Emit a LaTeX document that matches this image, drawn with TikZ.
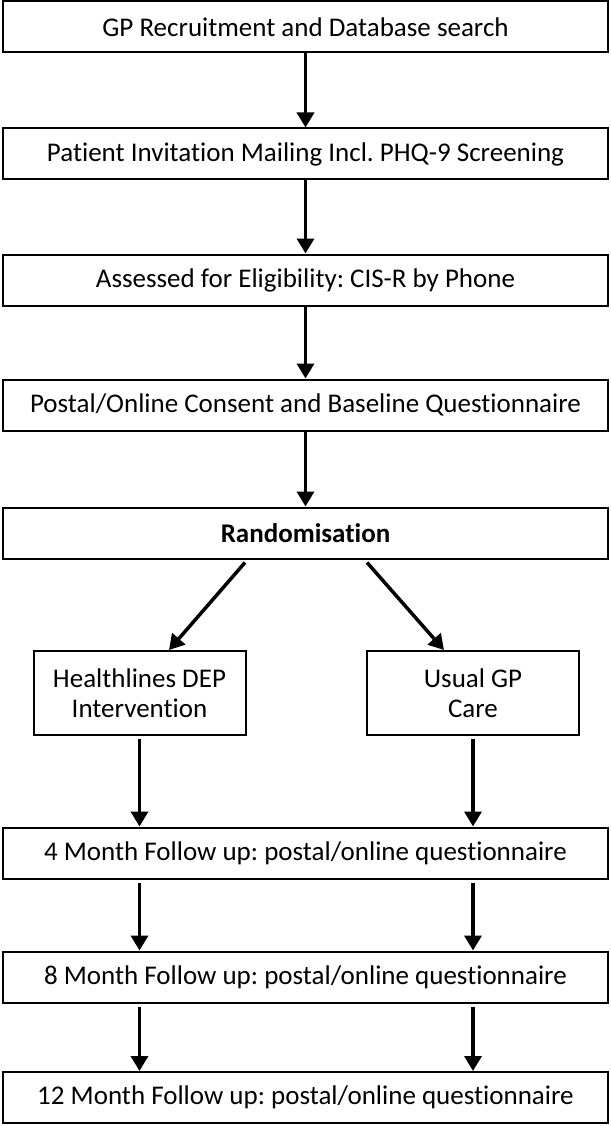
\documentclass[tikz,border=0pt]{standalone}
\usepackage{fontspec}
\setmainfont{Carlito}[Ligatures=NoCommon]
\usetikzlibrary{arrows.meta,calc}
\begin{document}
\frenchspacing
\begin{tikzpicture}[x=1pt,y=-1pt,
  box/.style={draw=black,line width=2pt,minimum width=605pt,minimum height=51pt,inner sep=0pt,align=center,font=\fontsize{27}{31}\selectfont},
  subbox/.style={draw=black,line width=2pt,minimum width=212pt,minimum height=84pt,inner sep=0pt,align=center,font=\fontsize{27}{30}\selectfont},
  arr/.style={line width=3.5pt,-{Triangle[length=15pt,width=17pt]}}]
\useasboundingbox (0,0) rectangle (610,1126);
\node[box] (b1) at (305.5,27) {GP Recruitment and Database search};
\node[box] (b2) at (305.5,154) {Patient Invitation Mailing Incl. PHQ-9 Screening};
\node[box] (b3) at (305.5,280) {Assessed for Eligibility: CIS-R by Phone};
\node[box] (b4) at (305.5,405) {Postal/Online Consent and Baseline Questionnaire};
\node[box] (rand) at (305.5,533) {\textbf{Randomisation}};
\node[subbox] (hl) at (139.5,693) {Healthlines DEP\\Intervention};
\node[subbox] (gp) at (473,693) {Usual GP\\Care};
\node[box] (m4) at (305.5,853) {4 Month Follow up: postal/online questionnaire};
\node[box] (m8) at (305.5,977) {8 Month Follow up: postal/online questionnaire};
\node[box] (m12) at (305.5,1097.5) {12 Month Follow up: postal/online questionnaire};
\draw[arr] (b1.south) -- (b2.north);
\draw[arr] (b2.south) -- (b3.north);
\draw[arr] (b3.south) -- (b4.north);
\draw[arr] (b4.south) -- (rand.north);
\draw[arr] ([xshift=-60.5pt,yshift=-3pt]rand.south) -- ([xshift=29.5pt]hl.north);
\draw[arr] ([xshift=61.5pt,yshift=-3pt]rand.south) -- ([xshift=-29pt]gp.north);
\draw[arr] ([yshift=-3pt]hl.south) -- (hl.south |- m4.north);
\draw[arr] ([yshift=-3pt]gp.south) -- (gp.south |- m4.north);
\draw[arr] ([yshift=-3pt]m4.south -| hl.south) -- (hl.south |- m8.north);
\draw[arr] ([yshift=-3pt]m4.south -| gp.south) -- (gp.south |- m8.north);
\draw[arr] ([yshift=-3pt]m8.south -| hl.south) -- (hl.south |- m12.north);
\draw[arr] ([yshift=-3pt]m8.south -| gp.south) -- (gp.south |- m12.north);
\end{tikzpicture}
\end{document}
